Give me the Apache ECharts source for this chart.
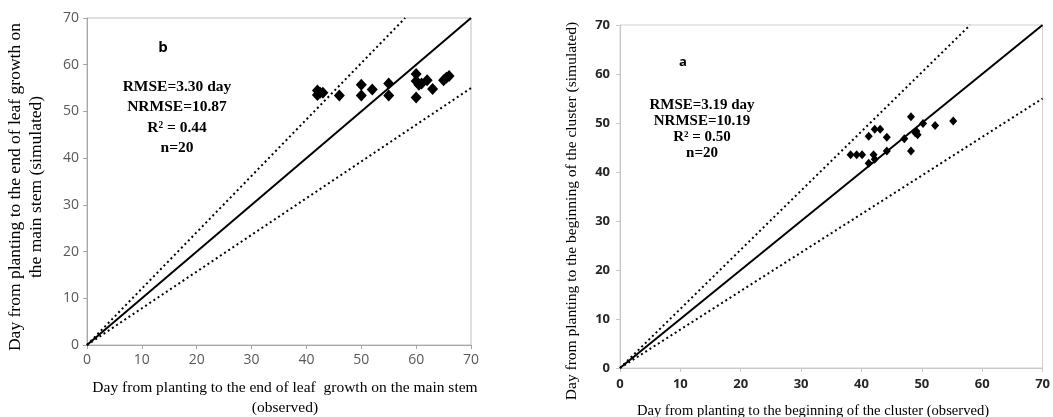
<!DOCTYPE html>
<html>
<head>
<meta charset="utf-8">
<script src="https://cdn.jsdelivr.net/npm/echarts@6/dist/echarts.min.js"></script>
<style>
    html, body { margin: 0; padding: 0; background: #fff; }
    #chart { width: 1053px; height: 417px; }
</style>
</head>
<body>
<div id="chart"></div>
<script>
    // panel b : end of leaf growth on the main stem
    let leafObs = [42, 42.5, 42, 43, 46, 50, 50, 52, 55, 55, 60, 60, 60, 60.5, 61, 62, 63, 65, 65.5, 66]
    let leafSim = [54.5, 54, 53.5, 54, 53.4, 55.7, 53.4, 54.7, 56, 53.4, 58, 56.5, 53, 55.7, 56, 56.7, 54.8, 56.7, 57.2, 57.6]
    // panel a : beginning of the cluster
    let clusterObs = [38.2, 39.2, 40.1, 41.2, 42, 42.2, 41.2, 42.2, 43.1, 44.2, 44.2, 47.1, 48.2, 48.2, 49.1, 49.3, 50.2, 52.2, 55.2, 48.9]
    let clusterSim = [43.5, 43.5, 43.5, 41.8, 43.5, 42.6, 47.3, 48.7, 48.7, 47.1, 44.3, 46.8, 51.3, 44.3, 48.3, 47.6, 49.9, 49.5, 50.4, 48.0]
    // 1:1 line and +-20% lines
    let oneX = [0, 70], oneY = [0, 70]
    let upX = [0, 58], upY = [0, 70]
    let lowX = [0, 70], lowY = [0, 55]
    let statsB = ['RMSE=3.30 day', 'NRMSE=10.87', 'R² = 0.44', 'n=20']
    let statsA = ['RMSE=3.19 day', 'NRMSE=10.19', 'R² = 0.50', 'n=20']

    function pairs(xs, ys) {
        let out = []
        for (let i = 0; i < xs.length; i++) out.push([xs[i], ys[i]])
        return out
    }

    let chart = echarts.init(document.getElementById('chart'))

    function axis(grid, bold, lineColor) {
        return {
            type: 'value', gridIndex: grid, min: 0, max: 70, interval: 10,
            axisLine: { show: true, lineStyle: { color: lineColor, width: 1 } },
            axisTick: { show: true, length: 4, lineStyle: { color: lineColor } },
            splitLine: { show: false },
            axisLabel: {
                fontFamily: 'Open Sans', fontSize: bold ? 13 : 14,
                fontWeight: bold ? 'bold' : 'normal',
                color: bold ? '#262626' : '#595959', margin: bold ? 10 : 8
            }
        }
    }

    function refLines(gi) {
        let solid = { type: 'line', xAxisIndex: gi, yAxisIndex: gi, symbol: 'none', silent: true,
            lineStyle: { color: '#000', width: 2 }, data: pairs(oneX, oneY) }
        let up = { type: 'line', xAxisIndex: gi, yAxisIndex: gi, symbol: 'none', silent: true,
            lineStyle: { color: '#000', width: 2, type: [2, 3] }, data: pairs(upX, upY) }
        let low = { type: 'line', xAxisIndex: gi, yAxisIndex: gi, symbol: 'none', silent: true,
            lineStyle: { color: '#000', width: 2, type: [2, 3] }, data: pairs(lowX, lowY) }
        return [solid, up, low]
    }

    function statText(list, cx, y0, gap, size) {
        let els = []
        for (let i = 0; i < list.length; i++) {
            els.push({ type: 'text', x: cx, y: y0 + i * gap,
                style: { text: list[i], font: 'bold ' + size + 'px "Liberation Serif"', fill: '#000',
                    textAlign: 'center', textVerticalAlign: 'middle' } })
        }
        return els
    }

    let serif = '"Liberation Serif"'
    let graphics = [
        // panel b labels
        { type: 'text', x: 163, y: 48, style: { text: 'b', font: 'bold 15px "Open Sans"', fill: '#000', textAlign: 'center', textVerticalAlign: 'middle' } },
        { type: 'text', x: 15, y: 187, rotation: Math.PI / 2,
            style: { text: 'Day from planting to the end of leaf growth on', font: '17.5px ' + serif, fill: '#000', textAlign: 'center', textVerticalAlign: 'middle' } },
        { type: 'text', x: 36, y: 187, rotation: Math.PI / 2,
            style: { text: 'the main stem (simulated)', font: '17.5px ' + serif, fill: '#000', textAlign: 'center', textVerticalAlign: 'middle' } },
        { type: 'text', x: 285, y: 388,
            style: { text: 'Day from planting to the end of leaf  growth on the main stem', font: '15.5px ' + serif, fill: '#000', textAlign: 'center', textVerticalAlign: 'middle' } },
        { type: 'text', x: 285, y: 408,
            style: { text: '(observed)', font: '15.5px ' + serif, fill: '#000', textAlign: 'center', textVerticalAlign: 'middle' } },
        // panel a labels
        { type: 'text', x: 683, y: 62, style: { text: 'a', font: 'bold 13px "Open Sans"', fill: '#000', textAlign: 'center', textVerticalAlign: 'middle' } },
        { type: 'text', x: 572, y: 211, rotation: Math.PI / 2,
            style: { text: 'Day from planting to the beginning of the cluster (simulated)', font: '15.5px ' + serif, fill: '#000', textAlign: 'center', textVerticalAlign: 'middle' } },
        { type: 'text', x: 813, y: 411,
            style: { text: 'Day from planting to the beginning of the cluster (observed)', font: '14.6px ' + serif, fill: '#000', textAlign: 'center', textVerticalAlign: 'middle' } }
    ]
    graphics = graphics.concat(statText(statsB, 177, 87, 20.3, 15.5))
    graphics = graphics.concat(statText(statsA, 702, 105, 16, 15))

    const option = {
        animation: false,
        grid: [
            { left: 87, top: 18, width: 384, height: 327, show: true, borderColor: '#bfbfbf', borderWidth: 1 },
            { left: 620, top: 25, width: 425, height: 343, show: true, borderColor: '#d0d0d0', borderWidth: 1 }
        ],
        xAxis: [axis(0, false, '#a6a6a6'), axis(1, true, '#c8c8c8')],
        yAxis: [axis(0, false, '#a6a6a6'), axis(1, true, '#c8c8c8')],
        graphic: graphics,
        series: refLines(0).concat(refLines(1)).concat([
            {
                name: 'leaf', type: 'scatter', xAxisIndex: 0, yAxisIndex: 0,
                symbol: 'diamond', symbolSize: [11, 12], itemStyle: { color: '#000', opacity: 1 },
                data: pairs(leafObs, leafSim)
            },
            {
                name: 'cluster', type: 'scatter', xAxisIndex: 1, yAxisIndex: 1,
                symbol: 'diamond', symbolSize: [8, 9], itemStyle: { color: '#000', opacity: 1 },
                data: pairs(clusterObs, clusterSim)
            }
        ])
    }
    chart.setOption(option)
</script>
</body>
</html>
